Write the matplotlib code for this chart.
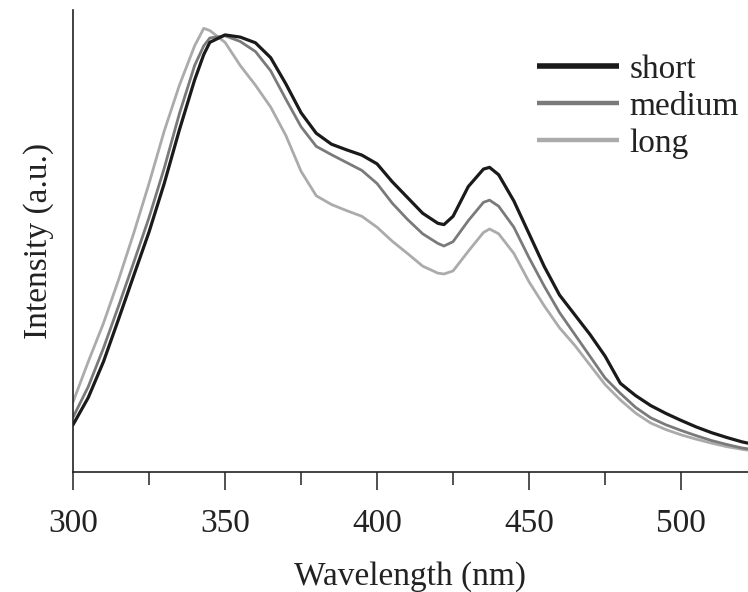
import matplotlib
matplotlib.use('Agg')
import matplotlib.pyplot as plt
from matplotlib.ticker import MultipleLocator


# wavelength grid (nm) and normalised intensities
wavelength = [300, 305, 310, 315, 320, 325, 330, 335, 340, 343, 345, 350, 355,
              360, 365, 370, 375, 380, 385, 390, 395, 400, 405, 410, 415, 420,
              422, 425, 430, 435, 437, 440, 445, 450, 455, 460, 465, 470, 475,
              480, 485, 490, 495, 500, 505, 510, 515, 520, 522]

short = [0.108, 0.170, 0.252, 0.350, 0.450, 0.549, 0.660, 0.783, 0.897, 0.955,
         0.983, 1.000, 0.995, 0.982, 0.948, 0.888, 0.822, 0.775, 0.750, 0.737,
         0.725, 0.705, 0.664, 0.628, 0.592, 0.569, 0.566, 0.585, 0.653, 0.693,
         0.697, 0.680, 0.620, 0.545, 0.470, 0.405, 0.360, 0.315, 0.265, 0.203,
         0.175, 0.152, 0.134, 0.118, 0.103, 0.090, 0.079, 0.069, 0.066]

medium = [0.125, 0.195, 0.283, 0.380, 0.480, 0.582, 0.695, 0.820, 0.930, 0.975,
          0.993, 0.998, 0.985, 0.962, 0.918, 0.853, 0.790, 0.745, 0.726, 0.708,
          0.690, 0.660, 0.615, 0.578, 0.545, 0.523, 0.517, 0.527, 0.575, 0.617,
          0.622, 0.608, 0.560, 0.490, 0.425, 0.365, 0.315, 0.265, 0.215, 0.180,
          0.148, 0.124, 0.108, 0.095, 0.083, 0.072, 0.063, 0.055, 0.053]

long_ = [0.160, 0.252, 0.340, 0.440, 0.547, 0.660, 0.780, 0.885, 0.975, 1.015,
         1.010, 0.983, 0.930, 0.885, 0.835, 0.770, 0.688, 0.632, 0.612, 0.598,
         0.585, 0.560, 0.528, 0.500, 0.471, 0.455, 0.453, 0.460, 0.505, 0.548,
         0.556, 0.545, 0.500, 0.435, 0.380, 0.330, 0.290, 0.245, 0.200, 0.165,
         0.135, 0.112, 0.097, 0.085, 0.075, 0.066, 0.058, 0.052, 0.050]

series_names = ['short', 'medium', 'long']
series_colors = ['#1a1a1a', '#7a7a7a', '#ababab']
line_widths = [2.3, 2.0, 2.0]

plt.rcParams['font.family'] = ['Liberation Serif', 'DejaVu Serif']

fig = plt.figure(figsize=(7.48, 5.92), dpi=100)
ax = fig.add_axes([73 / 748, 120 / 592, 1 - 73 / 748, (472 - 10) / 592])

for vals, name, col, lw in zip([long_, medium, short], series_names[::-1],
                               series_colors[::-1], line_widths[::-1]):
    ax.plot(wavelength, vals, color=col, lw=lw, label=name,
            solid_joinstyle='round', solid_capstyle='round')

ax.set_xlim(300, 522)
ax.set_ylim(0, 1.057)

for side in ['top', 'right']:
    ax.spines[side].set_visible(False)
for side in ['left', 'bottom']:
    ax.spines[side].set_color('#222222')
    ax.spines[side].set_linewidth(1.2)

ax.xaxis.set_major_locator(MultipleLocator(50))
ax.xaxis.set_minor_locator(MultipleLocator(25))
ax.tick_params(axis='x', which='major', direction='out', length=13, width=1.1,
               color='#222222', labelsize=24, labelcolor='#222222', pad=13)
ax.tick_params(axis='x', which='minor', direction='out', length=9, width=1.1,
               color='#222222')
ax.set_yticks([])

ax.set_xlabel('Wavelength (nm)', fontsize=24, color='#222222', labelpad=16)
ax.set_ylabel('Intensity (a.u.)', fontsize=24, color='#222222', labelpad=14)

handles, labels = ax.get_legend_handles_labels()
order = [2, 1, 0]
leg = fig.legend([handles[i] for i in order], [labels[i] for i in order],
                 loc='upper left', bbox_to_anchor=(537 / 748, 1 - 54 / 592),
                 frameon=False, fontsize=24, handlelength=2.45,
                 handletextpad=0.33, labelspacing=0.2, borderpad=0,
                 borderaxespad=0)
for line, w in zip(leg.get_lines(), [4.0, 3.2, 3.2]):
    line.set_linewidth(w)
    line.set_solid_capstyle('butt')
for t in leg.get_texts():
    t.set_color('#222222')

fig.savefig('out.png', dpi=100)
